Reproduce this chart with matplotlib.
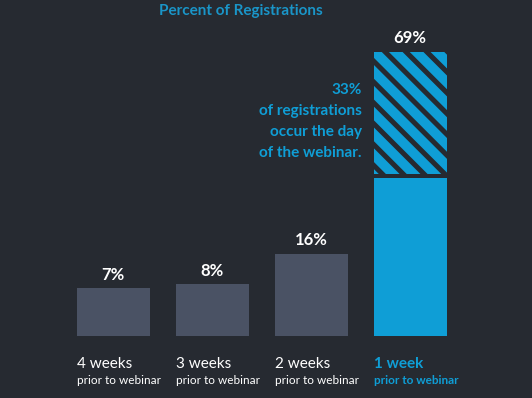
import numpy as np
import matplotlib.pyplot as plt

plt.rcParams['font.family'] = ['Lato', 'DejaVu Sans']
plt.rcParams['hatch.linewidth'] = 2.9

# data
semanas = ['4 weeks', '3 weeks', '2 weeks', '1 week']
subtitulo = 'prior to webinar'
porcentajes = [7, 8, 16, 69]
diaWebinar = 33  # parte de la ultima barra que ocurre el dia del webinar

fondo = '#262a31'
gris = '#4a5264'
azul = '#0f9ed6'
base = -5.5  # las barras arrancan un poco debajo de cero
dpi = 125
k = 100 / dpi  # para que los textos queden del mismo tamaño en pixeles

fig = plt.figure(figsize=(532 / dpi, 398 / dpi), dpi=dpi, facecolor=fondo)
ax = fig.add_axes([0.120, 0.156, 0.744, 0.7136])
ax.set_facecolor(fondo)

x = np.arange(len(porcentajes))
colores = [gris, gris, gris, azul]
alturas = [p - base for p in porcentajes]
alturas[-1] = porcentajes[-1] - diaWebinar - base
ax.bar(x, alturas, bottom=base, width=0.74, color=colores, linewidth=0)
# parte rayada
ax.bar(x[-1], diaWebinar - 1, bottom=porcentajes[-1] - diaWebinar + 1, width=0.74,
       color=azul, edgecolor=fondo, linewidth=0, hatch='\\\\')

for i, p in enumerate(porcentajes):
    ax.annotate(f'{p}%', (x[i], p), xytext=(0, 4 * k), textcoords='offset points',
                ha='center', va='bottom', color='white', fontsize=12 * k,
                fontweight='bold', annotation_clip=False)

for i, s in enumerate(semanas):
    ultimo = i == len(semanas) - 1
    c = azul if ultimo else 'white'
    w = 'bold' if ultimo else 'normal'
    ax.text(x[i] - 0.37, -0.1, s, transform=ax.get_xaxis_transform(),
            ha='left', va='center', color=c, fontsize=11 * k, fontweight=w)
    ax.text(x[i] - 0.37, -0.157, subtitulo, transform=ax.get_xaxis_transform(),
            ha='left', va='center', color=c, fontsize=8.5 * k, fontweight=w)

ax.text(x[-1] - 0.49, 60.8, f'{diaWebinar}%\nof registrations\noccur the day\nof the webinar.',
        ha='right', va='top', color=azul, fontsize=11 * k, fontweight='bold',
        linespacing=1.62)

fig.text(0.453, 0.972, 'Percent of Registrations', ha='center', va='center',
         color='#1a95c8', fontsize=11 * k, fontweight='bold')

ax.set_xlim(-0.5, 3.5)
ax.set_ylim(base, porcentajes[-1])
ax.axis('off')

plt.savefig('out.png', dpi=dpi, facecolor=fondo)
